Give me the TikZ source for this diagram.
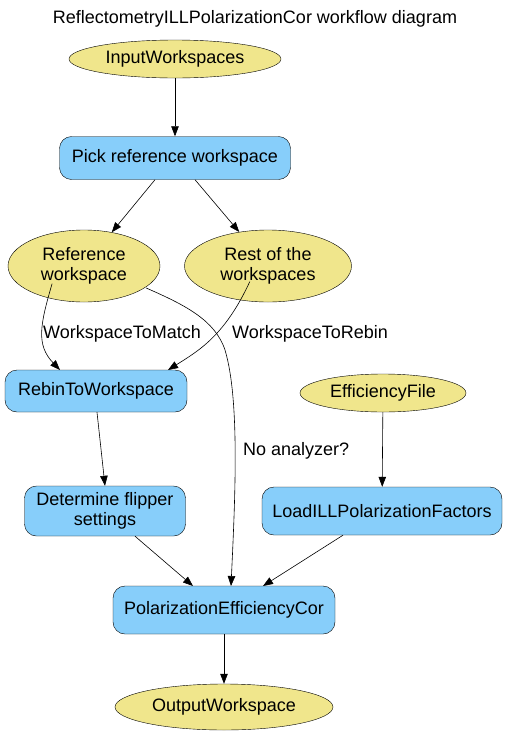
\documentclass[tikz,border=0pt]{standalone}
\usepackage{fontspec}
\setmainfont{Liberation Sans}
\usetikzlibrary{shapes.geometric,arrows.meta}
\definecolor{khakiy}{HTML}{F0E68C}
\definecolor{skyb}{HTML}{87CEFA}
\tikzset{
  ws/.style={ellipse,draw,fill=khakiy,inner sep=0pt,align=center,font=\fontsize{18}{20.5}\selectfont},
  alg/.style={rectangle,rounded corners=12pt,draw,fill=skyb,inner sep=0pt,align=center,font=\fontsize{18}{20.5}\selectfont},
  arr/.style={-{Triangle[length=10pt,width=7.5pt]},line width=0.6pt},
  lbl/.style={font=\fontsize{18}{20.5}\selectfont,anchor=west,inner sep=0pt}
}
\begin{document}
\begin{tikzpicture}[x=1pt,y=-1pt]
\useasboundingbox (0,0) rectangle (509,737);
\node[font=\fontsize{18}{20.5}\selectfont] (title) at (255,19) {ReflectometryILLPolarizationCor workflow diagram};
\node[ws,minimum width=212,minimum height=38] (in) at (175,59) {InputWorkspaces};
\node[alg,minimum width=231,minimum height=43] (pick) at (175,158) {Pick reference workspace};
\node[ws,minimum width=152,minimum height=72] (ref) at (84,266) {Reference\\workspace};
\node[ws,minimum width=167,minimum height=72] (rest) at (268,266) {Rest of the\\workspaces};
\node[alg,minimum width=182,minimum height=42] (rebin) at (96,391) {RebinToWorkspace};
\node[ws,minimum width=166,minimum height=38] (eff) at (383,393) {EfficiencyFile};
\node[alg,minimum width=161,minimum height=50] (det) at (105,511) {Determine flipper\\settings};
\node[alg,minimum width=240,minimum height=48] (load) at (382,511) {LoadILLPolarizationFactors};
\node[alg,minimum width=222,minimum height=48] (pol) at (224,610) {PolarizationEfficiencyCor};
\node[ws,minimum width=218,minimum height=46] (out) at (224,707) {OutputWorkspace};

\draw[arr] (in) -- (pick);
\draw[arr] (pick.south) ++(-20,0) coordinate (p1) (p1) -- (ref);
\draw[arr] (pick.south) ++(20,0) coordinate (p2) (p2) -- (rest);
\draw[arr] (ref.south west) ++(22,-8) coordinate (r1)
  (r1) .. controls (40,325) and (36,345) .. (60,370);
\node[lbl] (l1) at (43,334) {WorkspaceToMatch};
\draw[arr] (rest.south west) ++(41,-10) coordinate (r2)
  (r2) .. controls (225,335) and (200,350) .. (168,370);
\node[lbl] (l2) at (232,334) {WorkspaceToRebin};
\draw[arr] (ref.east) ++(-14,22) coordinate (r3)
  (r3) .. controls (185,305) and (215,320) .. (225,350)
  .. controls (240,400) and (235,500) .. (231,586);
\node[lbl] (l3) at (243,451) {No analyzer?};
\draw[arr] (rebin.south) ++(1,0) coordinate (b1) (b1) -- (det.north);
\draw[arr] (eff) -- (load);
\draw[arr] (det.south) ++(30,0) coordinate (d1) (d1) -- (193,586);
\draw[arr] (load.south) ++(-39,0) coordinate (d2) (d2) -- (263,586);
\draw[arr] (pol) -- (out);
\end{tikzpicture}
\end{document}
